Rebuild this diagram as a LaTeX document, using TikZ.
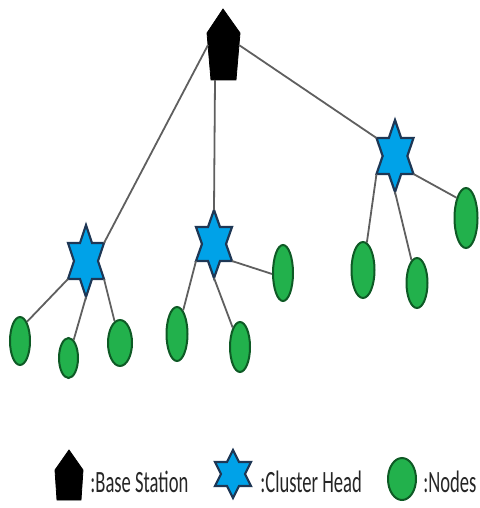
\documentclass[tikz,border=0pt]{standalone}
\usepackage{fontspec}
\setmainfont{Carlito}
\usetikzlibrary{shapes.geometric}
\definecolor{starfill}{RGB}{0,162,232}
\definecolor{starline}{RGB}{30,55,85}
\definecolor{nodefill}{RGB}{34,177,76}
\definecolor{nodeline}{RGB}{14,90,37}
\definecolor{linkcol}{RGB}{95,95,95}
\tikzset{
  starsty/.style={fill=starfill, draw=starline, line width=1.1pt, line join=miter},
  bssty/.style={fill=black, draw=black, line width=0.4pt},
  sensor/.style={ellipse, fill=nodefill, draw=nodeline, line width=1pt, inner sep=0pt},
  link/.style={draw=linkcol, line width=0.9pt},
  legtext/.style={anchor=base west, inner sep=0pt, text=black!85},
  pics/hexstar/.style args={#1/#2}{code={
    \draw[starsty] (0,-#1) coordinate (-t) -- (#2/3,-#1/2) -- (#2,-#1/2) coordinate (-ur)
      -- (2*#2/3,0) -- (#2,#1/2) coordinate (-lr) -- (#2/3,#1/2) -- (0,#1) coordinate (-b)
      -- (-#2/3,#1/2) -- (-#2,#1/2) coordinate (-ll) -- (-2*#2/3,0) -- (-#2,-#1/2) coordinate (-ul)
      -- (-#2/3,-#1/2) -- cycle;
  }}
}
\newcommand{\legtxt}[1]{\scalebox{0.6}[1]{\fontsize{15.5}{18}\selectfont #1}}
\begin{document}
\begin{tikzpicture}[x=0.5pt, y=-0.5pt]
\path[use as bounding box] (0,0) rectangle (479,508);

% base station
\draw[bssty] (223,9) -- (240,33) -- (236,80) -- (211,80) -- (207,33) -- cycle;
\coordinate (bsL) at (208,45);
\coordinate (bsR) at (239,45);
\coordinate (bsB) at (215,80);

% cluster heads
\pic (s1) at (86,261) {hexstar={36/18}};
\pic (s2) at (214,244) {hexstar={34/18}};
\pic (s3) at (395,156) {hexstar={36/18.5}};

% sensor nodes
\node[sensor, minimum width=10pt, minimum height=24pt] (e1) at (20,341) {};
\node[sensor, minimum width=9.5pt, minimum height=20pt] (e2) at (68.5,358) {};
\node[sensor, minimum width=12pt, minimum height=23pt] (e3) at (120,343) {};
\node[sensor, minimum width=10.5pt, minimum height=27pt] (e4) at (177,334) {};
\node[sensor, minimum width=10pt, minimum height=25pt] (e5) at (240,347) {};
\node[sensor, minimum width=10pt, minimum height=28pt] (e6) at (283,273) {};
\node[sensor, minimum width=11.5pt, minimum height=28pt] (e7) at (363,270) {};
\node[sensor, minimum width=10.5pt, minimum height=25pt] (e8) at (417,283) {};
\node[sensor, minimum width=11.5pt, minimum height=30pt] (e9) at (466,218) {};

% links
\draw[link] (bsL) -- (s1-ur);
\draw[link] (bsB) -- (s2-t);
\draw[link] (bsR) -- (s3-ul);
\draw[link] (s1-ll) -- (e1.70);
\draw[link] (s1-b) -- (e2);
\draw[link] (s1-lr) -- (e3);
\draw[link] (s2-ll) -- (e4);
\draw[link] (s2-b) -- (e5);
\draw[link] (s2-lr) -- (e6.185);
\draw[link] (s3-ll) -- (e7);
\draw[link] (s3-b) -- (e8);
\draw[link] (s3-lr) -- (e9.115);

% legend
\draw[bssty] (69,450) -- (83,470) -- (81,500) -- (57,500) -- (55,470) -- cycle;
\node[legtext] (lbs) at (90,492) {\legtxt{:Base Station}};
\pic (ls) at (233,474) {hexstar={24/18}};
\node[legtext] (lch) at (260,492) {\legtxt{:Cluster Head}};
\node[sensor, minimum width=14pt, minimum height=21pt] (le) at (402,479) {};
\node[legtext] (lnd) at (423,492) {\legtxt{:Nodes}};
\end{tikzpicture}
\end{document}
